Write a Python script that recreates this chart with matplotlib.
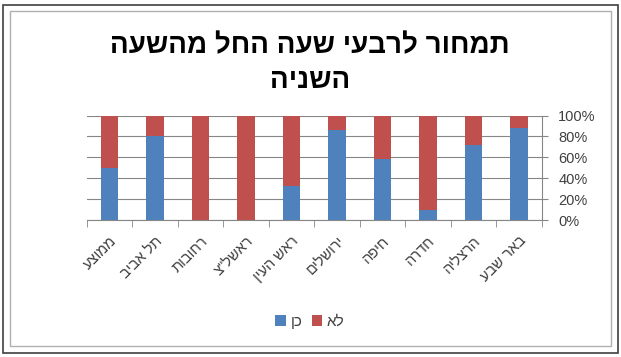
import matplotlib
matplotlib.use('Agg')
import matplotlib.pyplot as plt
from matplotlib.patches import Rectangle
import numpy as np

plt.rcParams['font.family'] = ['Liberation Sans', 'DejaVu Sans']

# data (logical Hebrew order, left to right on the axis)
cities = ['ממוצע', 'תל אביב', 'רחובות', 'ראשל"צ', 'ראש העין',
          'ירושלים', 'חיפה', 'חדרה', 'הרצליה', 'באר שבע']
yes_pct = [50, 80, 0, 0, 33, 86, 58, 10, 72, 88]
no_pct = [50, 20, 100, 100, 67, 14, 42, 90, 28, 12]
title_lines = ['תמחור לרבעי שעה החל מהשעה', 'השניה']
legend_labels = ['כן', 'לא']


def rtl(s):
    # matplotlib has no bidi support, so flip the hebrew string
    return s[::-1]


fig = plt.figure(figsize=(6.21, 3.57), dpi=100)
W, H = 621, 357

# chart frames
fig.add_artist(Rectangle((2.5 / W, 4.5 / H), 615 / W, 348 / H, transform=fig.transFigure,
                         fill=False, edgecolor='#404040', linewidth=1.2))
fig.add_artist(Rectangle((9.5 / W, 11 / H), 601 / W, 335 / H, transform=fig.transFigure,
                         fill=False, edgecolor='#b0b0b0', linewidth=1.0))

ax = fig.add_axes([86.7 / W, (357 - 220) / H, 455 / W, 104.5 / H])

x = np.arange(len(cities))
blue = '#4f81bd'
red = '#c0504d'
b1 = ax.bar(x, yes_pct, width=0.38, color=blue, zorder=3)
b2 = ax.bar(x, no_pct, bottom=yes_pct, width=0.38, color=red, zorder=3)

ax.set_xlim(-0.5, len(cities) - 0.5)
ax.set_ylim(0, 100)

# y axis on right
ax.yaxis.tick_right()
ax.set_yticks(range(0, 101, 20))
ax.set_yticklabels(['%d%%' % v for v in range(0, 101, 20)])
ax.tick_params(axis='y', length=4, color='#868686', labelsize=10.5, labelcolor='#404040', pad=8)
ax.grid(axis='y', color='#868686', linewidth=0.8, zorder=0)

# x ticks: marks at boundaries, labels at centres
ax.set_xticks(np.arange(-0.5, len(cities), 1), minor=True)
ax.set_xticks(x)
ax.set_xticklabels([rtl(c) for c in cities], rotation=45, ha='right', va='top',
                   rotation_mode='anchor', fontsize=10.5, color='#404040')
ax.tick_params(axis='x', which='major', length=0, pad=10)
ax.tick_params(axis='x', which='minor', length=5, color='#868686')

for side in ['top', 'left']:
    ax.spines[side].set_visible(False)
for side in ['bottom', 'right']:
    ax.spines[side].set_color('#868686')
    ax.spines[side].set_linewidth(0.8)

# title
fig.text(310 / W, 1 - 53 / H, rtl(title_lines[0]), ha='center', va='baseline',
         fontsize=20, fontweight='bold', color='black')
fig.text(310 / W, 1 - 88 / H, rtl(title_lines[1]), ha='center', va='baseline',
         fontsize=20, fontweight='bold', color='black')

fig.legend([b1, b2], [rtl(t) for t in legend_labels], loc='center',
           bbox_to_anchor=(310 / W, 1 - 322 / H),
           ncol=2, frameon=False, fontsize=11, handlelength=0.7, handleheight=0.7,
           handletextpad=0.3, columnspacing=0.6, labelcolor='#404040')

plt.savefig('out.png', dpi=100)
